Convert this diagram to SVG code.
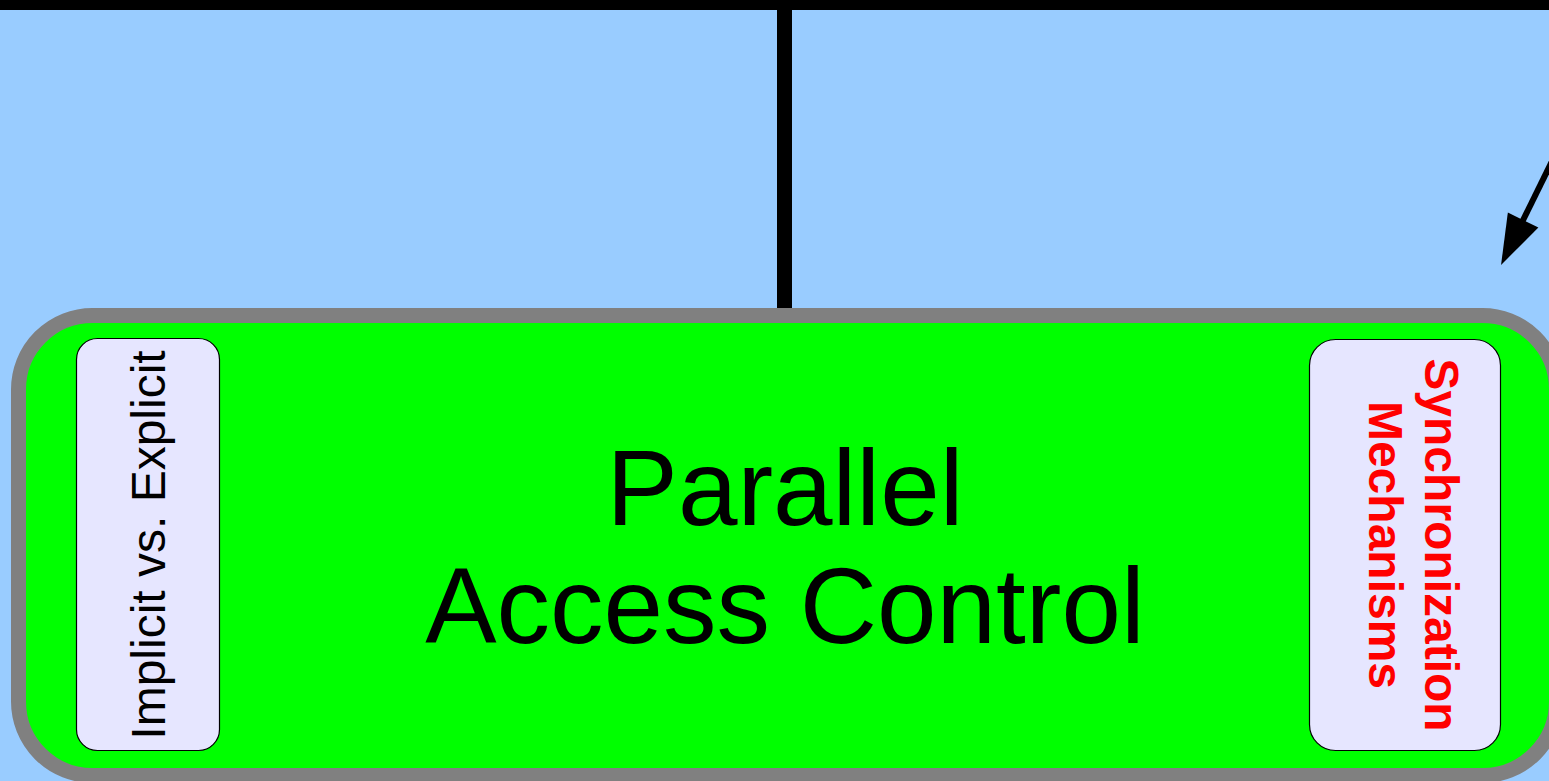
<svg xmlns="http://www.w3.org/2000/svg" width="1549" height="781" viewBox="0 0 1549 781">
  <style>
    .label { font-family: "Liberation Sans", Arial, sans-serif; }
    .title { font-size: 107px; fill: #000000; text-anchor: middle; }
    .side { font-size: 48px; text-anchor: middle; }
    .sub { fill: #E6E6FF; stroke: #000000; stroke-width: 1.2; }
    .conn { stroke: #000000; fill: none; }
  </style>
  <defs>
    <marker id="arrowHead" markerUnits="userSpaceOnUse" markerWidth="50" markerHeight="34" refX="10" refY="17" orient="auto" overflow="visible">
      <path d="M0,0 L50,17 L0,34 z" fill="#000000"/>
    </marker>
  </defs>

  <!-- background -->
  <rect x="0" y="0" width="1549" height="781" fill="#99CCFF"/>
  <rect x="0" y="0" width="1549" height="10" fill="#000000"/>

  <!-- connectors -->
  <g id="connectors">
    <line class="conn" x1="784.5" y1="0" x2="784.5" y2="315" stroke-width="15"/>
    <line class="conn" x1="1616" y1="31" x2="1518.7" y2="229" stroke-width="6" marker-end="url(#arrowHead)"/>
  </g>

  <!-- main node -->
  <g id="parallel-access-control">
    <rect x="18.5" y="315.5" width="1538" height="460" rx="74" ry="74" fill="#00FF00" stroke="#808080" stroke-width="15"/>
    <text class="label title" x="785" y="525">Parallel</text>
    <text class="label title" x="785" y="643">Access Control</text>
  </g>

  <!-- left sub-node -->
  <g id="implicit-explicit">
    <rect class="sub" x="76.5" y="338.5" width="143" height="412" rx="21" ry="21"/>
    <text class="label side" fill="#000000" transform="translate(165,545) rotate(-90)">Implicit vs. Explicit</text>
  </g>

  <!-- right sub-node -->
  <g id="synchronization-mechanisms">
    <rect class="sub" x="1309.5" y="339.5" width="191" height="411" rx="26" ry="26"/>
    <text class="label side" fill="#FF0000" font-weight="bold" transform="translate(1425,545) rotate(90)">Synchronization</text>
    <text class="label side" fill="#FF0000" font-weight="bold" transform="translate(1369,545) rotate(90)">Mechanisms</text>
  </g>
</svg>
